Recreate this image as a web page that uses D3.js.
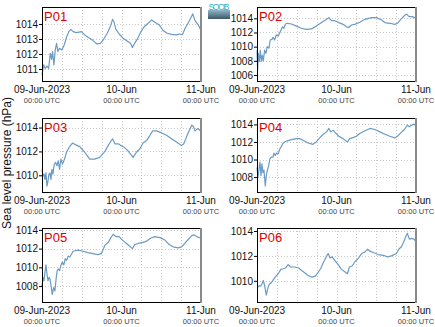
<!DOCTYPE html>
<html><head><meta charset="utf-8">
<script src="https://cdn.jsdelivr.net/npm/d3@7"></script>
<style>body{margin:0;background:#fff}svg{display:block}text{font-family:"Liberation Sans",Arial,sans-serif}</style>
</head><body><svg id="c" width="435" height="327"></svg>
<script>
// hours since 09-Jun-2023 00:00 UTC, value in hPa
const p01 = [[0,1010.6],[0.5,1011.27],[1,1011.04],[1.5,1011.2],[2,1011.04],[2.5,1012.04],[2.9,1011.64],[3.2,1012.16],[3.6,1011.27],[4,1012.27],[4.4,1012.71],[4.8,1012.16],[5.3,1012.38],[6,1012.27],[6.7,1012.6],[7.4,1013.11],[8.1,1013.49],[8.7,1013.64],[9.4,1013.49],[10.4,1013.42],[11.9,1013.49],[12.9,1013.27],[13.9,1013.11],[15.4,1012.89],[16.6,1012.67],[17.6,1012.71],[18.6,1012.98],[19.7,1013.38],[20.7,1013.87],[21.3,1014.31],[21.7,1014.16],[22.3,1013.64],[23.3,1013.33],[24.5,1013.04],[26,1012.82],[26.7,1012.71],[27.3,1012.44],[28.1,1012.76],[28.9,1013.04],[29.7,1013.42],[30.7,1013.78],[31.8,1014.0],[33.1,1014.27],[34.1,1014.11],[35.4,1013.93],[36.6,1013.56],[37.8,1013.38],[39.1,1013.31],[40.6,1013.27],[41.6,1013.33],[42.4,1013.29],[43.2,1013.71],[44.3,1014.13],[45.5,1014.67],[46.2,1014.22],[47.2,1013.93],[48,1013.56]];
const p02 = [[0,1009.5],[0.2,1006.7],[0.4,1009.06],[0.7,1007.9],[1,1009.5],[1.3,1007.9],[1.6,1008.8],[1.9,1008.0],[2.3,1009.5],[2.7,1009.06],[3.1,1010.0],[3.6,1009.8],[4,1010.94],[4.5,1011.03],[4.9,1011.3],[5.3,1010.94],[5.8,1011.65],[6.4,1011.5],[7,1012.1],[7.7,1012.8],[8.1,1012.6],[8.6,1013.2],[9.2,1013.3],[10.4,1013.2],[11.9,1012.9],[13.4,1012.6],[14.9,1012.45],[16.4,1012.5],[17.9,1012.9],[19.5,1013.4],[21,1013.86],[21.7,1014.1],[22.5,1013.67],[23.5,1013.67],[24.7,1013.4],[26,1013.15],[27,1012.8],[27.7,1012.7],[28.5,1013.06],[29.5,1013.15],[31,1013.44],[32.6,1013.86],[34.6,1014.1],[36.1,1014.1],[37.6,1013.76],[38.6,1013.4],[40.1,1013.3],[41.6,1013.15],[42.4,1013.3],[43.4,1013.86],[44.7,1014.47],[45.2,1014.6],[45.9,1014.24],[46.9,1014.24],[48,1014.0]];
const p03 = [[0,1010.5],[0.3,1009.94],[0.6,1010.1],[0.9,1009.66],[1.2,1010.2],[1.5,1009.1],[1.8,1009.5],[2.1,1010.1],[2.4,1010.2],[2.7,1009.66],[3,1010.5],[3.3,1010.1],[3.7,1010.94],[4.1,1011.08],[4.5,1010.8],[4.9,1011.22],[5.3,1010.5],[5.7,1011.36],[6.2,1010.94],[6.8,1011.36],[7.4,1011.93],[8.2,1012.35],[9.2,1012.7],[10.2,1012.55],[11.4,1012.4],[12.9,1011.93],[14.4,1011.36],[15.9,1011.36],[17.4,1011.5],[19,1012.0],[20.3,1012.64],[21.3,1013.06],[22,1012.64],[23,1012.64],[24.5,1012.4],[25.7,1012.13],[26.7,1011.8],[27.5,1011.5],[28.5,1011.93],[29.5,1012.2],[30.5,1012.7],[31.6,1012.92],[32.6,1013.35],[33.4,1013.72],[34.6,1013.72],[36.1,1013.55],[37.6,1013.35],[39.1,1013.06],[40.6,1012.78],[42.1,1012.5],[42.8,1012.64],[43.6,1013.2],[44.5,1013.77],[45.2,1014.2],[45.7,1014.1],[46.2,1013.72],[47,1013.91],[47.5,1013.83],[48,1013.63]];
const p04 = [[0,1009.1],[0.3,1007.96],[0.6,1008.9],[0.9,1009.7],[1.2,1008.15],[1.5,1009.5],[1.8,1008.5],[2.1,1008.8],[2.5,1007.0],[2.8,1008.15],[3.1,1008.7],[3.5,1009.3],[3.9,1010.08],[4.3,1010.27],[4.8,1010.27],[5.1,1010.73],[5.5,1010.46],[5.9,1010.73],[6.4,1010.65],[6.9,1011.23],[7.4,1011.5],[7.9,1011.88],[8.9,1012.1],[10.4,1012.27],[11.9,1012.38],[12.9,1012.38],[13.9,1012.19],[15.4,1011.88],[16.9,1011.73],[17.9,1012.0],[19,1012.5],[20,1012.88],[21,1013.15],[21.7,1013.54],[22.3,1013.15],[23,1013.35],[23.7,1013.04],[24.7,1012.65],[26,1012.38],[27.3,1012.0],[28,1012.38],[29,1012.5],[30,1012.65],[31,1012.96],[32.6,1013.27],[34.1,1013.54],[35.6,1013.42],[37.1,1013.15],[38.6,1012.88],[40.1,1012.65],[41.6,1012.46],[42.4,1012.65],[43.4,1013.04],[44.5,1013.42],[45.4,1013.92],[46,1013.73],[46.7,1013.92],[47.4,1014.04],[48,1013.8]];
const p05 = [[0,1008.0],[0.3,1008.93],[0.6,1008.57],[0.9,1009.47],[1.2,1010.27],[1.5,1009.29],[1.8,1008.57],[2.1,1008.93],[2.4,1008.75],[2.8,1007.84],[3.1,1007.12],[3.5,1007.84],[3.9,1007.48],[4.3,1008.93],[4.6,1009.65],[4.9,1009.83],[5.3,1009.65],[5.7,1010.2],[6.1,1010.56],[6.6,1010.27],[7,1010.92],[7.4,1010.74],[7.9,1011.2],[8.4,1011.1],[9.4,1011.72],[10.9,1011.83],[12.4,1011.72],[13.9,1011.57],[15.4,1011.46],[16.9,1011.36],[17.9,1011.46],[19,1012.37],[20,1012.66],[20.8,1013.17],[21.5,1013.53],[22.3,1013.28],[23.3,1013.28],[24.3,1012.91],[25.5,1012.55],[26.7,1012.19],[27.3,1012.0],[28,1012.44],[29,1012.55],[30.5,1012.66],[31.6,1012.8],[32.8,1013.1],[34.1,1013.28],[35.6,1013.17],[37.1,1012.91],[38.4,1012.44],[39.6,1012.19],[41.1,1012.08],[42.1,1012.19],[43.1,1012.55],[44.2,1013.0],[45.2,1013.38],[45.9,1013.46],[46.7,1013.28],[48,1013.1]];
const p06 = [[0,1009.49],[0.3,1009.49],[0.7,1009.62],[1.1,1009.57],[1.5,1009.76],[1.9,1010.03],[2.3,1009.62],[2.8,1008.86],[3.1,1009.22],[3.5,1009.62],[3.9,1009.76],[4.3,1009.84],[4.8,1010.03],[5.5,1010.3],[6.4,1010.57],[7.2,1010.92],[7.9,1010.97],[8.6,1011.03],[9.4,1011.3],[10.2,1011.11],[11.4,1011.11],[12.6,1011.03],[13.4,1010.84],[14.4,1010.65],[15.4,1010.43],[16.6,1010.3],[17.6,1010.38],[18.4,1010.65],[19.3,1011.03],[20.1,1011.51],[20.9,1011.92],[21.5,1012.19],[22,1011.84],[22.7,1011.92],[23.5,1011.65],[24.5,1011.3],[25.5,1010.92],[26.3,1010.76],[27.3,1010.57],[27.9,1011.11],[28.7,1011.19],[29.5,1011.51],[30.5,1011.78],[31.6,1012.19],[32.6,1012.32],[33.4,1012.54],[34.1,1012.38],[35.1,1012.27],[36.6,1012.11],[38.1,1012.05],[39.4,1011.92],[40.6,1012.0],[42.1,1012.19],[42.8,1012.54],[43.6,1012.73],[44.3,1013.14],[44.9,1013.54],[45.4,1013.81],[46,1013.35],[46.7,1013.41],[47.4,1013.35],[48,1013.14]];

const panelNames = ["P01","P02","P03","P04","P05","P06"];
const panelSeries = [p01,p02,p03,p04,p05,p06];
const panelYDomains = [[1010.2,1015.13],[1005.15,1015.6],[1008.6,1014.8],[1006.3,1014.73],[1006.3,1014.2],[1008.3,1014.24]];
const panelYTicks = [[1011,1012,1013,1014],[1006,1008,1010,1012,1014],[1010,1012,1014],[1008,1010,1012,1014],[1008,1010,1012,1014],[1010,1012,1014]];
const xTickDates = ["2023-06-09T00:00:00Z","2023-06-10T00:00:00Z","2023-06-11T00:00:00Z"];
const xTickLabels = ["09-Jun-2023","10-Jun","11-Jun"];
const xTickSub = "00:00 UTC";
const yTitle = "Sea level pressure (hPa)";
const startTime = new Date("2023-06-09T00:00:00Z");

const svg = d3.select("#c");
const colLeft = [42, 257], plotW = 159, rowTop = [7, 118, 228], plotH = 74;
const lineColor = "#6b9bc4";

panelSeries.forEach((series, i) => {
  const col = i % 2, row = Math.floor(i / 2);
  const g = svg.append("g").attr("transform", `translate(${colLeft[col]},${rowTop[row]})`);
  const x = d3.scaleUtc().domain([startTime, new Date(startTime.getTime() + 48 * 3600e3)]).range([0, plotW]);
  const y = d3.scaleLinear().domain(panelYDomains[i]).range([plotH, 0]);
  const grid6h = d3.utcHours(x.domain()[0], x.domain()[1], 6).slice(1);
  g.selectAll(".vg").data(grid6h).join("line")
    .attr("x1", d => Math.round(x(d)) + 0.5).attr("x2", d => Math.round(x(d)) + 0.5)
    .attr("y1", 0).attr("y2", plotH)
    .attr("stroke", "#c8c8c8").attr("stroke-dasharray", "1,2");
  g.selectAll(".hg").data(panelYTicks[i]).join("line")
    .attr("x1", 0).attr("x2", plotW)
    .attr("y1", d => Math.round(y(d)) + 0.5).attr("y2", d => Math.round(y(d)) + 0.5)
    .attr("stroke", "#c8c8c8").attr("stroke-dasharray", "1,2");
  const line = d3.line().x(d => x(new Date(startTime.getTime() + d[0] * 3600e3))).y(d => y(d[1]));
  g.append("path").datum(series).attr("d", line).attr("fill", "none")
    .attr("stroke", lineColor).attr("stroke-width", 1.2).attr("stroke-linejoin", "round");
  // frame
  g.append("rect").attr("x", 0.5).attr("y", 0.5).attr("width", plotW - 1).attr("height", plotH)
    .attr("fill", "none").attr("stroke", "#000").attr("stroke-width", 1);
  g.append("line").attr("x1", plotW).attr("x2", plotW).attr("y1", 0).attr("y2", plotH + 1)
    .attr("stroke", "#8a8a8a").attr("stroke-width", 2);
  // y ticks
  const ya = d3.axisLeft(y).tickValues(panelYTicks[i]).tickSize(3).tickFormat(d3.format("d"));
  const yg = g.append("g").call(ya);
  yg.select(".domain").remove();
  yg.selectAll("text").attr("font-size", 10).attr("fill", "#111").attr("x", -4);
  // x ticks
  const xg = g.append("g").attr("transform", `translate(0,${plotH})`);
  xTickDates.forEach((ds, k) => {
    const px = x(new Date(ds));
    xg.append("text").attr("x", px).attr("y", 12).attr("text-anchor", "middle")
      .attr("font-size", 10).attr("fill", "#111").text(xTickLabels[k]);
    xg.append("text").attr("x", px).attr("y", 22).attr("text-anchor", "middle")
      .attr("font-size", 7.5).attr("fill", "#444").text(xTickSub);
  });
  g.append("text").attr("x", 2).attr("y", 14).attr("font-size", 13).attr("fill", "#e00000").text(panelNames[i]);
});

svg.append("text").attr("transform", "translate(11,163) rotate(-90)").attr("text-anchor", "middle")
  .attr("font-size", 12).attr("fill", "#111").text(yTitle);

// logo
const grad = svg.append("defs").append("linearGradient").attr("id", "lg").attr("x1", 0).attr("y1", 0).attr("x2", 0).attr("y2", 1);
grad.append("stop").attr("offset", 0).attr("stop-color", "#8fb6c8");
grad.append("stop").attr("offset", 1).attr("stop-color", "#3d5766");
svg.append("rect").attr("x", 208).attr("y", 10).attr("width", 22).attr("height", 9).attr("fill", "url(#lg)");
svg.append("text").attr("x", 219).attr("y", 10).attr("text-anchor", "middle").attr("font-size", 8.5)
  .attr("fill", "#2ab0c8").attr("textLength", 21).text("SOCIB");
</script></body></html>
